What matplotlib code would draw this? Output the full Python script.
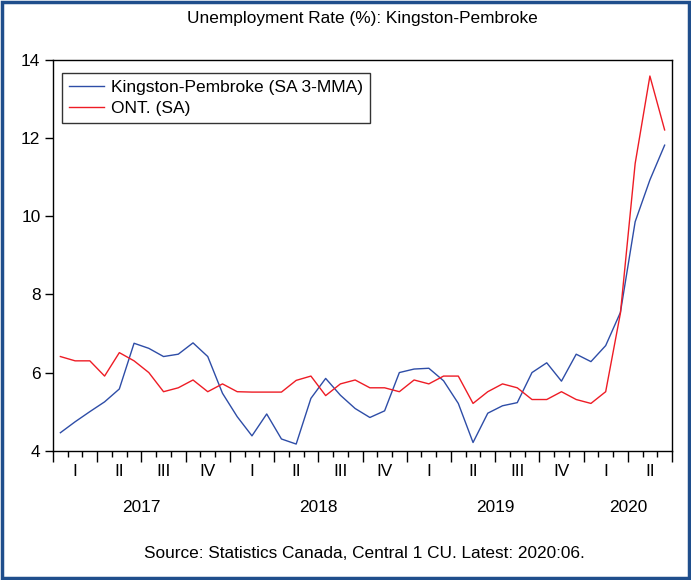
import matplotlib
matplotlib.use("Agg")
import matplotlib.pyplot as plt
import matplotlib.transforms as mtransforms
from matplotlib.patches import Rectangle

plt.rcParams['font.family'] = ['Liberation Sans', 'DejaVu Sans']

kingston = [4.46, 4.74, 5.00, 5.25, 5.58, 6.75, 6.62, 6.41, 6.47, 6.76, 6.41, 5.47,
            4.87, 4.38, 4.94, 4.30, 4.17, 5.34, 5.85, 5.42, 5.08, 4.85, 5.02, 6.00,
            6.09, 6.11, 5.79, 5.21, 4.21, 4.96, 5.15, 5.23, 6.00, 6.25, 5.78, 6.47,
            6.28, 6.69, 7.54, 9.86, 10.93, 11.82]
ontario = [6.41, 6.30, 6.30, 5.91, 6.51, 6.30, 6.00, 5.51, 5.61, 5.81, 5.51, 5.71,
           5.51, 5.50, 5.50, 5.50, 5.80, 5.91, 5.41, 5.71, 5.81, 5.61, 5.61, 5.51,
           5.81, 5.71, 5.91, 5.91, 5.21, 5.51, 5.71, 5.61, 5.31, 5.31, 5.51, 5.31,
           5.21, 5.51, 7.52, 11.35, 13.59, 12.21]
quarter_labels = ["I", "II", "III", "IV"] * 3 + ["I", "II"]
year_labels = ["2017", "2018", "2019", "2020"]
year_months = [12, 12, 12, 6]
y_ticks = [4, 6, 8, 10, 12, 14]

fig = plt.figure(figsize=(6.91, 5.80), dpi=100)
fig.patch.set_facecolor('white')
ax = fig.add_axes([53/691, 1 - 450.7/580, (672 - 53)/691, (450.7 - 60)/580])

n = len(kingston)
xs = [i + 0.5 for i in range(n)]
ax.plot(xs, kingston, color='#2E4DA7', lw=1.0, label='Kingston-Pembroke (SA 3-MMA)')
ax.plot(xs, ontario, color='#EE1C25', lw=1.0, label='ONT. (SA)')

ax.set_xlim(0, n)
ax.set_ylim(4, 14)
ax.set_yticks(y_ticks)
ax.set_yticklabels([str(v) for v in y_ticks], fontsize=12.4)
ax.tick_params(axis='y', direction='out', length=6, width=1, pad=3)

ax.set_xticks(range(0, n + 1, 3))
ax.set_xticklabels([])
ax.set_xticks(range(0, n + 1), minor=True)
ax.tick_params(axis='x', which='major', direction='out', length=8, width=1)
ax.tick_params(axis='x', which='minor', direction='out', length=4, width=1)
for sp in ax.spines.values():
    sp.set_linewidth(1.0)

trans = mtransforms.blended_transform_factory(ax.transData, fig.transFigure)
for qi, ql in enumerate(quarter_labels):
    ax.text(qi * 3 + 1.5, 1 - 472/580, ql, transform=trans, ha='center', va='center', fontsize=12.4)
start = 0
for yl, m in zip(year_labels, year_months):
    ax.text(start + m / 2, 1 - 508/580, yl, transform=trans, ha='center', va='center', fontsize=12.4)
    start += m

fig.text(362.5/691, 1 - 18/580, "Unemployment Rate (%): Kingston-Pembroke", ha='center', va='center', fontsize=12.4)
fig.text(364/691, 1 - 553/580, "Source: Statistics Canada, Central 1 CU. Latest: 2020:06.", ha='center', va='center', fontsize=12.4)

leg = ax.legend(loc='upper left', bbox_to_anchor=(0.0145, 0.9667), borderaxespad=0,
                fontsize=12.5, frameon=True, fancybox=False, handlelength=2.0,
                labelspacing=0.32, borderpad=0.42, handletextpad=0.4)
leg.get_frame().set_edgecolor('black')
leg.get_frame().set_linewidth(1.0)

fig.patches.append(Rectangle((0.003, 0.003), 0.994, 0.994, transform=fig.transFigure,
                             fill=False, edgecolor='#1F4E8C', lw=2.5))

fig.savefig('out.png', dpi=100)
